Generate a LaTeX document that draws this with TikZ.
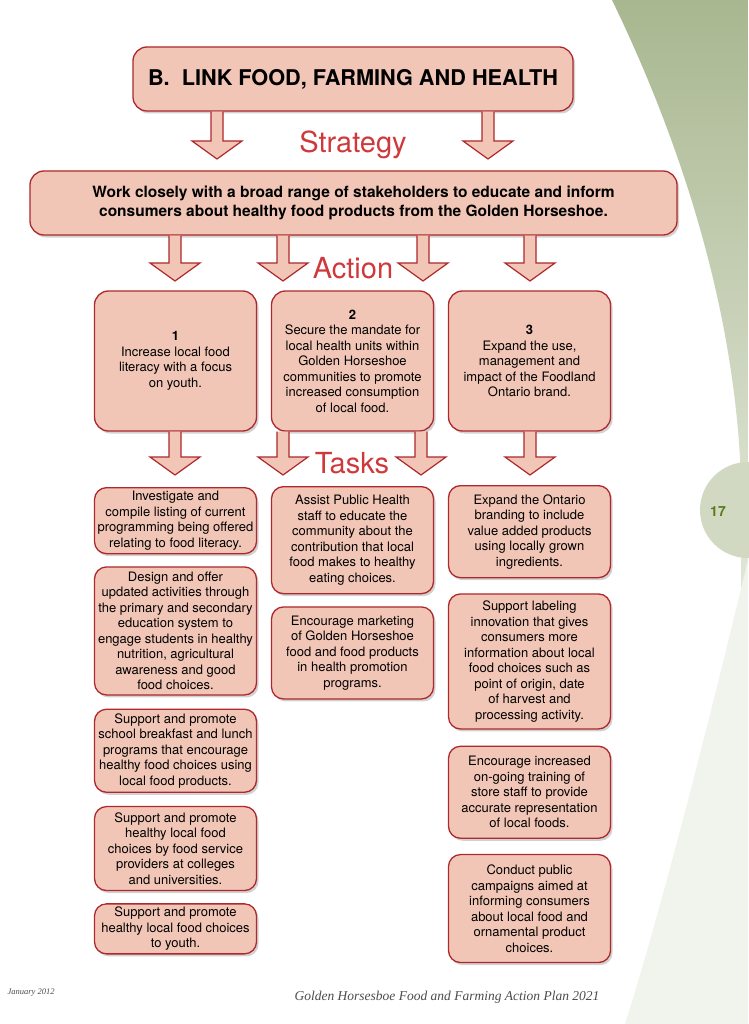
\documentclass[tikz,border=0pt]{standalone}
\usepackage{fontspec}
\setmainfont{TeX Gyre Heros}
\newfontfamily\footerfont{Liberation Serif}
\usetikzlibrary{positioning,calc,shadows}
\definecolor{boxfill}{HTML}{F2C6B6}
\definecolor{boxline}{HTML}{AE282D}
\definecolor{labelred}{HTML}{D0393B}
\definecolor{sage}{HTML}{A9B790}
\definecolor{sagelight}{HTML}{DCE2D1}
\definecolor{tabgreen}{HTML}{D1D9C3}
\definecolor{pagenum}{HTML}{5B7A1E}
\newcommand{\fatarrow}[2]{%
	\filldraw[fatarrowstyle] ($(#1.south -| #2)+(-6,0)$) -- ($(#2)+(-6,-18)$) -- ($(#2)+(-25,-18)$) -- (#2) -- ($(#2)+(25,-18)$) -- ($(#2)+(6,-18)$) -- ($(#1.south -| #2)+(6,0)$);
}
\begin{document}
\begin{tikzpicture}[x=1pt,y=-1pt]
				\tikzstyle{headbox} = [draw=boxline, fill=boxfill, line width=1.3pt, rounded corners=14pt, drop shadow={shadow xshift=2pt, shadow yshift=-2.5pt, opacity=0.35}, align=center, inner sep=2pt]
				\tikzstyle{actionbox} = [headbox, minimum width=162pt, minimum height=140pt, font={\fontsize{13}{15.5}\selectfont}]
				\tikzstyle{taskbox} = [headbox, rounded corners=12pt, minimum width=162pt, anchor=north, font={\fontsize{13}{15.5}\selectfont}]
				\tikzstyle{steplabel} = [text=labelred, font={\fontsize{29}{30}\selectfont}]
				\tikzstyle{fatarrowstyle} = [draw=boxline, fill=boxfill, line width=1.2pt, line join=miter]
				\useasboundingbox (0,0) rectangle (748,1024);
				\fill[white] (0,0) rectangle (748,1024);
				\shade[top color=sage, bottom color=white, middle color=sagelight] (612,0) .. controls (675,130) and (735,300) .. (741,480) -- (741,1024) -- (748,1024) -- (748,0) -- cycle;
				\fill[sagelight!40] (748,560) .. controls (700,760) and (655,930) .. (625,1024) -- (748,1024) -- cycle;
				\fill[tabgreen] (748,510) circle (48);
				\node[font={\bfseries\fontsize{14}{14}\selectfont}, text=pagenum] (page) at (718,512) {17};
				\node[headbox, minimum width=440pt, minimum height=64pt, font={\bfseries\fontsize{21.7}{24}\selectfont}] (goal) at (353,79) {B.\ \ LINK FOOD, FARMING AND HEALTH};
				\node[steplabel] (lstrat) at (353,145) {Strategy};
				\node[headbox, minimum width=647pt, minimum height=64pt, font={\bfseries\fontsize{15.5}{19}\selectfont}] (strat) at (353.5,203) {Work closely with a broad range of stakeholders to educate and inform\\consumers about healthy food products from the Golden Horseshoe.};
				\node[steplabel] (lact) at (353,268) {Action};
				\node[actionbox] (a1) at (175.5,361) {\textbf{1}\\Increase local food\\literacy with a focus\\on youth.};
				\node[actionbox] (a2) at (352.5,361) {\textbf{2}\\Secure the mandate for\\local health units within\\Golden Horseshoe\\communities to promote\\increased consumption\\of local food.};
				\node[actionbox] (a3) at (529.5,361) {\textbf{3}\\Expand the use,\\management and\\impact of the Foodland\\Ontario brand.};
				\node[steplabel] (ltask) at (352,463) {Tasks};
				\node[taskbox, minimum height=66pt] (t11) at (175.5,487) {Investigate and\\compile listing of current\\programming being offered\\relating to food literacy.};
				\node[taskbox, minimum height=128pt] (t12) [below=12pt of t11] {Design and offer\\updated activities through\\the primary and secondary\\education system to\\engage students in healthy\\nutrition, agricultural\\awareness and good\\food choices.};
				\node[taskbox, minimum height=83pt] (t13) [below=13pt of t12] {Support and promote\\school breakfast and lunch\\programs that encourage\\healthy food choices using\\local food products.};
				\node[taskbox, minimum height=84pt] (t14) [below=13pt of t13] {Support and promote\\healthy local food\\choices by food service\\providers at colleges\\and universities.};
				\node[taskbox, minimum height=50pt] (t15) [below=12pt of t14] {Support and promote\\healthy local food choices\\to youth.};
				\node[taskbox, minimum height=107pt] (t21) at (352.5,486) {Assist Public Health\\staff to educate the\\community about the\\contribution that local\\food makes to healthy\\eating choices.};
				\node[taskbox, minimum height=92pt] (t22) [below=12pt of t21] {Encourage marketing\\of Golden Horseshoe\\food and food products\\in health promotion\\programs.};
				\node[taskbox, minimum height=92pt] (t31) at (529.5,485) {Expand the Ontario\\branding to include\\value added products\\using locally grown\\ingredients.};
				\node[taskbox, minimum height=135pt] (t32) [below=15pt of t31] {Support labeling\\innovation that gives\\consumers more\\information about local\\food choices such as\\point of origin, date\\of harvest and\\processing activity.};
				\node[taskbox, minimum height=92pt] (t33) [below=16pt of t32] {Encourage increased\\on-going training of\\store staff to provide\\accurate representation\\of local foods.};
				\node[taskbox, minimum height=108pt] (t34) [below=15pt of t33] {Conduct public\\campaigns aimed at\\informing consumers\\about local food and\\ornamental product\\choices.};
				\coordinate (st1) at (217,159);
				\coordinate (st2) at (488,159);
				\coordinate (ac1) at (175,281);
				\coordinate (ac2) at (283,281);
				\coordinate (ac3) at (423,281);
				\coordinate (ac4) at (530,281);
				\coordinate (tk1) at (175,475);
				\coordinate (tk2) at (283,475);
				\coordinate (tk3) at (421,475);
				\coordinate (tk4) at (530,475);
				\fatarrow{goal}{st1}
				\fatarrow{goal}{st2}
				\fatarrow{strat}{ac1}
				\fatarrow{strat}{ac2}
				\fatarrow{strat}{ac3}
				\fatarrow{strat}{ac4}
				\fatarrow{a1}{tk1}
				\fatarrow{a2}{tk2}
				\fatarrow{a2}{tk3}
				\fatarrow{a3}{tk4}
				\node[anchor=west, font={\footerfont\itshape\fontsize{8.5}{9}\selectfont}, text=black!70] (date) at (4,993) {January 2012};
				\node[font={\footerfont\itshape\fontsize{13.5}{14}\selectfont}, text=black!70] (footer) at (447,997) {Golden Horsesboe Food and Farming Action Plan 2021};
			\end{tikzpicture}
\end{document}
